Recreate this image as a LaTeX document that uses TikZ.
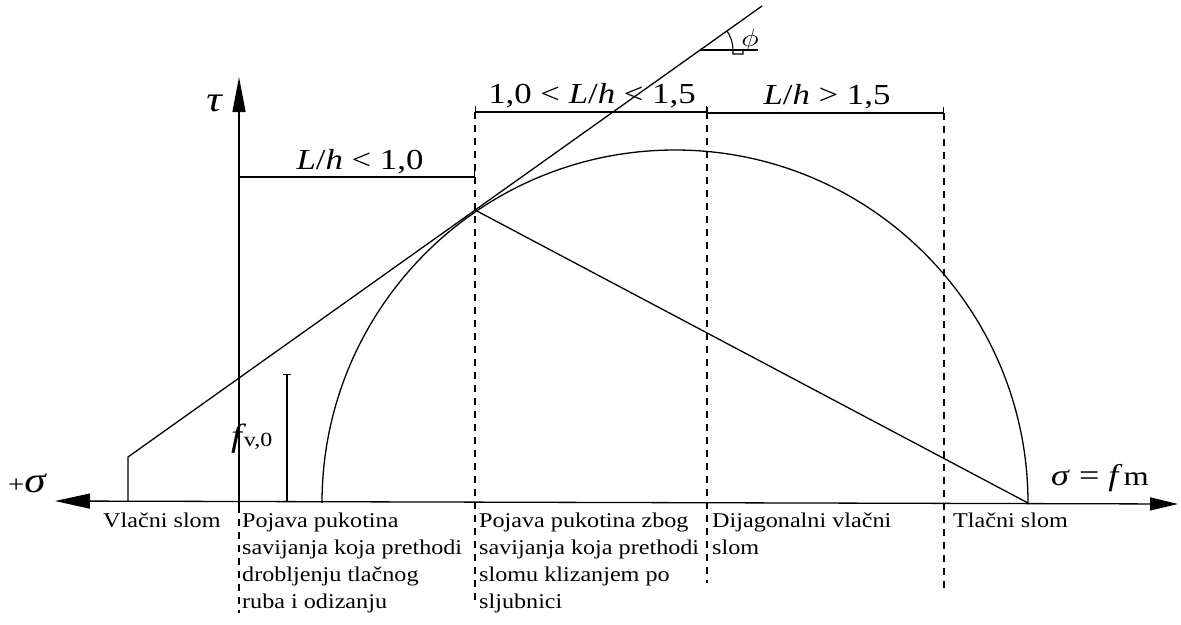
\documentclass[tikz,border=0pt]{standalone}
\usepackage{fontspec}
\setmainfont{Liberation Serif}[FakeStretch=1.2]
\newfontfamily\bodyfont{Liberation Serif}[FakeStretch=1.15]
\usepackage{graphicx}
\usetikzlibrary{arrows.meta}
\begin{document}
\begin{tikzpicture}[x=1pt,y=-1pt,
  ln/.style={line width=1.3pt},
  dsh/.style={line width=1.2pt, dash pattern=on 7pt off 6pt},
  dim/.style={line width=1.3pt, {Bar[width=12pt]}-{Bar[width=12pt]}},
  body/.style={anchor=base west, inner sep=0pt, font=\bodyfont\fontsize{21}{27.3}\selectfont},
  big/.style={anchor=base, inner sep=0pt, font=\fontsize{29}{32}\selectfont},
]
\fill[white] (0,0) rectangle (1181,624);
\useasboundingbox (0,0) rectangle (1181,624);

% coordinates
\coordinate (xl) at (55,501);
\coordinate (xr) at (1178,504);
\coordinate (tb) at (239,506);
\coordinate (tt) at (239,77);
\coordinate (tbot) at (239,613);
\coordinate (cl) at (322,503);
\coordinate (cr) at (1028,503);
\coordinate (m0) at (128,501);
\coordinate (m1) at (128,457);
\coordinate (m2) at (762,6);
\coordinate (P) at (475,210);
\coordinate (V) at (700,50);
\coordinate (Vh) at (758,50);

% axes
\draw[ln, {Triangle[length=35pt,width=15pt]}-{Triangle[length=28pt,width=13pt]}] (xl) -- (xr);
\draw[ln, -{Triangle[length=35pt,width=13pt]}] (tb) -- (tt);
\draw[dsh] (tb) -- (tbot);

% Mohr circle and failure line
\draw[ln] (cl) arc[start angle=180, end angle=360, radius=353];
\draw[ln] (m0) -- (m1) -- (m2);
\draw[ln] (P) -- (cr);

% angle phi
\draw[ln] (V) -- (Vh);
\draw[line width=1.1pt] ([shift={(-35.5:33)}]V) arc[start angle=-35.5, end angle=0, radius=33]
  -- ++(0,4) -- ++(10,0) -- ++(0,-4);
\node[inner sep=0pt, font=\fontsize{30}{32}\selectfont] (phi) at (750,40) {\scalebox{1.2}[1]{$\phi$}};

% dashed dividers
\draw[dsh] (475,112) -- (475,600);
\draw[dsh] (707,112) -- (707,583);
\draw[dsh] (944,113) -- (944,588);

% dimension lines
\draw[dim] (239,177) -- (475,177);
\draw[dim] (475,112) -- (707,112);
\draw[dim] (707,113) -- (944,113);
\draw[line width=1.3pt, {Bar[width=8pt]}-] (287,374) -- (287,502);

% labels
\node[big] (lab1) at (360,169) {\textit{L}/\textit{h} < 1,0};
\node[big] (lab2) at (592,103) {1,0 < \textit{L}/\textit{h} < 1,5};
\node[big] (lab3) at (827,104) {\textit{L}/\textit{h} > 1,5};

\node[inner sep=0pt, font=\fontsize{36}{38}\selectfont\itshape] (tau) at (214,103) {τ};
\node[anchor=base west, inner sep=0pt] (psig) at (8,492) {{\fontsize{24}{26}\selectfont +}{\fontsize{36}{38}\selectfont\itshape σ}};
\node[anchor=base west, inner sep=0pt, font=\fontsize{30}{32}\selectfont] (sfm) at (1051,485) {\textit{σ} = \textit{f}\hspace{1pt}{\fontsize{27}{28}\selectfont m}};
\node[anchor=base west, inner sep=0pt] (fv) at (231,446) {{\fontsize{32}{34}\selectfont\itshape f}\hspace{2pt}{\fontsize{20}{22}\selectfont v,0}};

% bottom texts
\node[body] (t0) at (103,527) {Vlačni slom};
\node[body] (t1) at (242,527) {\begin{tabular}[t]{@{}l@{}}Pojava pukotina\\ savijanja koja prethodi\\ drobljenju tlačnog\\ ruba i odizanju\end{tabular}};
\node[body] (t2) at (479,527) {\begin{tabular}[t]{@{}l@{}}Pojava pukotina zbog\\ savijanja koja prethodi\\ slomu klizanjem po\\ sljubnici\end{tabular}};
\node[body] (t3) at (712,527) {\begin{tabular}[t]{@{}l@{}}Dijagonalni vlačni\\ slom\end{tabular}};
\node[body] (t4) at (953,527) {Tlačni slom};
\end{tikzpicture}
\end{document}
